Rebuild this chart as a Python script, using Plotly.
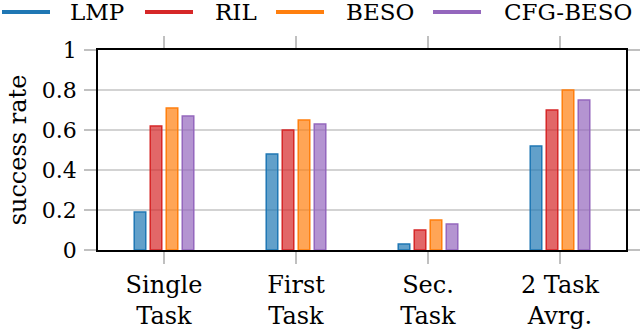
"""Grouped bar chart: success rate per task for four methods."""

import plotly.graph_objects as go

# data
categories = ["Single<br>Task", "First<br>Task", "Sec.<br>Task", "2 Task<br>Avrg."]
methods = ["LMP", "RIL", "BESO", "CFG-BESO"]
lmp = [0.19, 0.48, 0.03, 0.52]
ril = [0.62, 0.60, 0.10, 0.70]
beso = [0.71, 0.65, 0.15, 0.80]
cfg_beso = [0.67, 0.63, 0.13, 0.75]
y_ticks = [0, 0.2, 0.4, 0.6, 0.8, 1]
y_tick_text = ["0", "0.2", "0.4", "0.6", "0.8", "1"]

series = [lmp, ril, beso, cfg_beso]
colors = [(31, 119, 180), (214, 39, 40), (255, 127, 14), (148, 103, 189)]

FONT = "DejaVu Serif"
W, H = 640, 335
L, R, T, B = 98, 14, 50, 85

fig = go.Figure()
for name, vals, (r, g, b) in zip(methods, series, colors):
    fig.add_trace(go.Bar(
        x=categories, y=vals, name=name,
        marker=dict(color=f"rgba({r},{g},{b},0.7)",
                    line=dict(color=f"rgb({r},{g},{b})", width=1.5)),
        showlegend=False,
    ))

# legend drawn by hand, pgfplots style (line sample + label in one row)
plot_w = W - L - R
plot_h = H - T - B
legend_y = 1 + (T - 12) / plot_h
legend_pos = [(2, 68), (145, 213), (276, 344), (433, 502)]  # line start, text start (px)
for name, (r, g, b), (lx, tx) in zip(methods, colors, legend_pos):
    fig.add_shape(
        type="line", xref="paper", yref="paper",
        x0=(lx - L) / plot_w, x1=(lx + 48 - L) / plot_w,
        y0=legend_y, y1=legend_y,
        line=dict(color=f"rgb({r},{g},{b})", width=4),
    )
    fig.add_annotation(
        text=name, xref="paper", yref="paper",
        x=(tx - L) / plot_w, y=legend_y, xanchor="left", yanchor="middle",
        showarrow=False, font=dict(family=FONT, size=23, color="black"),
    )

axis_common = dict(
    showline=True, linecolor="black", linewidth=1.5, mirror="ticks",
    ticks="outside", ticklen=12, tickcolor="#c0c0c0", tickwidth=1.5,
    tickfont=dict(family=FONT, size=22, color="black"),
    automargin=False,
)

fig.update_xaxes(**axis_common, range=[-0.5, 3.5], showgrid=False)
fig.update_xaxes(tickfont_size=24)
fig.update_yaxes(
    **axis_common, range=[0, 1], tickvals=y_ticks, ticktext=y_tick_text,
    showgrid=True, gridcolor="#d3d3d3", gridwidth=1.5, zeroline=False,
    ticklabelstandoff=3,
    title=dict(text="success rate", font=dict(family=FONT, size=24, color="black"),
               standoff=8),
)

fig.update_layout(
    width=W, height=H,
    margin=dict(l=L, r=R, t=T, b=B),
    plot_bgcolor="white", paper_bgcolor="white",
    barmode="group", bargap=0.515, bargroupgap=0.28,
    font=dict(family=FONT, color="black"),
)

# drop the browser's default 8px body margin so the figure sits flush in the window
fig.write_html(
    "out.html",
    config={"displayModeBar": False},
    post_script="document.body.style.margin = '0';",
)
